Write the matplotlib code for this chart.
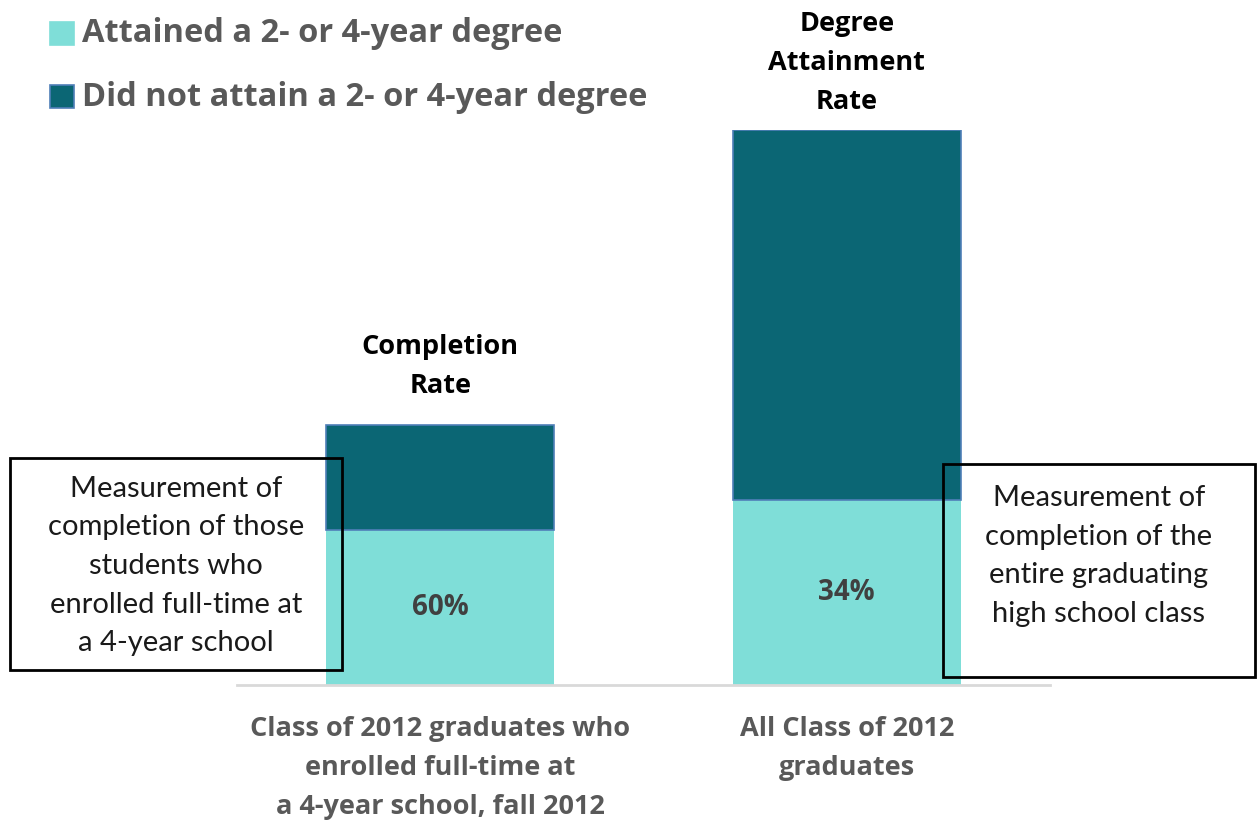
import matplotlib
matplotlib.use("Agg")
import matplotlib.pyplot as plt
from matplotlib.patches import Rectangle

# data (heights, arbitrary units)
categories = ["Class of 2012 graduates who\nenrolled full-time at\na 4-year school, fall 2012",
              "All Class of 2012\ngraduates"]
attained = [155, 185]
not_attained = [105, 370]
pct_labels = ["60%", "34%"]
bar_titles = ["Completion\nRate", "Degree\nAttainment\nRate"]
series = ["Attained a 2- or 4-year degree", "Did not attain a 2- or 4-year degree"]
notes = ["Measurement of\ncompletion of those\nstudents who\nenrolled full-time at\na 4-year school",
         "Measurement of\ncompletion of the\nentire graduating\nhigh school class"]

light = "#7FDED8"
dark = "#0B6674"
grey = "#595959"

W, H = 1257, 822
fig = plt.figure(figsize=(W / 100, H / 100), dpi=100)


def fx(x):
    return x / W


def fy(y):
    return 1 - y / H


ax = fig.add_axes([fx(237), fy(685), fx(1050) - fx(237), fy(130) - fy(685)])
x = [0, 1]
ax.bar(x, attained, width=0.56, color=light, edgecolor=light, linewidth=0)
ax.bar(x, not_attained, width=0.56, bottom=attained, color=dark,
       edgecolor="#4F7FB8", linewidth=1.2)
ax.set_xlim(-0.5, 1.5)
ax.set_ylim(0, sum([attained[1], not_attained[1]]))
for s in ["top", "right", "left"]:
    ax.spines[s].set_visible(False)
ax.spines["bottom"].set_color("#D9D9D9")
ax.spines["bottom"].set_linewidth(2)
ax.set_yticks([])
ax.set_xticks(x)
ax.set_xticklabels(categories, fontsize=19.5, fontweight="bold", color=grey,
                   family="Open Sans", linespacing=1.65)
ax.tick_params(axis="x", length=0, pad=22)

# percentages inside the light segments
for i in x:
    ax.text(i, attained[i] * 0.5, pct_labels[i], ha="center", va="center",
            fontsize=20, fontweight="bold", color="#404040", family="Open Sans")

# titles above the bars
for i, off in zip(x, [19, 11]):
    ax.annotate(bar_titles[i], (i, attained[i] + not_attained[i]),
                xytext=(0, off), textcoords="offset points", ha="center", va="bottom",
                fontsize=19.5, fontweight="bold", color="black", family="Open Sans",
                linespacing=1.65, annotation_clip=False)

# legend
for j, (name, c) in enumerate(zip(series, [light, dark])):
    y0 = 22 + j * 63
    fig.patches.append(Rectangle((fx(50), fy(y0 + 23)), fx(24), fy(0) - fy(23),
                                 transform=fig.transFigure, facecolor=c,
                                 edgecolor="#4F7FB8" if j else c, linewidth=1.2))
    fig.text(fx(82), fy(y0 + 12), name, ha="left", va="center", fontsize=23.5,
             fontweight="bold", color=grey, family="Open Sans")

# note boxes
boxes = [(10, 458, 342, 670), (943, 464, 1255, 677)]
for (x0, y0, x1, y1), note in zip(boxes, notes):
    fig.patches.append(Rectangle((fx(x0), fy(y1)), fx(x1 - x0), fy(y0) - fy(y1),
                                 transform=fig.transFigure, facecolor="none",
                                 edgecolor="black", linewidth=2, zorder=5))
for (x0, y0, x1, y1), note, cy in zip(boxes, notes, [566, 556]):
    fig.text(fx((x0 + x1) / 2), fy(cy), note, ha="center", va="center",
             fontsize=21, color="#1a1a1a", family="Lato", linespacing=1.6)

fig.savefig("out.png", dpi=100)
